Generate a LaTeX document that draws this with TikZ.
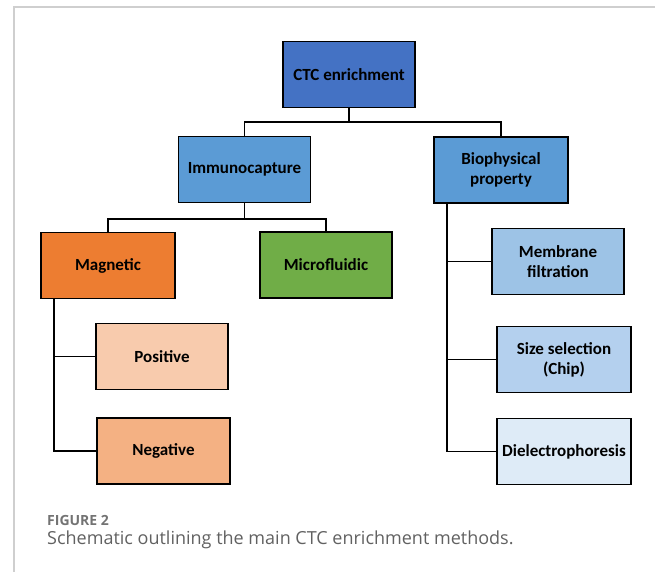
\documentclass[tikz,border=0pt]{standalone}
\usepackage{fontspec}
\setmainfont{Carlito}
\newfontfamily\capfont{Open Sans}
\usepackage{tikz}
\usetikzlibrary{positioning}
\definecolor{ctcblue}{HTML}{4472C4}
\definecolor{midblue}{HTML}{5B9BD5}
\definecolor{lightblue}{HTML}{9DC3E6}
\definecolor{paleblue}{HTML}{B4D0EE}
\definecolor{faintblue}{HTML}{DEEBF7}
\definecolor{magorange}{HTML}{ED7D31}
\definecolor{posorange}{HTML}{F8CBAD}
\definecolor{negorange}{HTML}{F4B183}
\definecolor{microgreen}{HTML}{70AD47}
\definecolor{framegray}{HTML}{CFCFCF}

\begin{document}
\begin{tikzpicture}[x=1pt, y=-1pt, box/.style={draw=black,line width=1.5pt,
	minimum width=132pt,minimum height=66pt,inner sep=0pt,align=center,
	font=\bfseries\fontsize{17}{20}\selectfont}, link/.style={line width=1.8pt}]
\useasboundingbox (0,0) rectangle (655,572);
\draw[framegray, line width=1.2pt] (655,7) -- (14,7) -- (14,572);
\node[box,fill=ctcblue] (0) at (349, 74.5) {CTC enrichment};
\node[box,fill=midblue] (1) at (244.5, 169.5) {Immunocapture};
\node[box,fill=midblue,minimum width=134pt] (2) at (501, 170) {Biophysical\\property};
\node[box,fill=magorange,minimum width=134pt] (3) at (108, 265.5) {Magnetic};
\node[box,fill=microgreen] (4) at (326, 265) {Microfluidic};
\node[box,fill=lightblue] (5) at (558, 261.5) {Membrane\\filtration};
\node[box,fill=posorange] (6) at (162, 356.5) {Positive};
\node[box,fill=negorange,minimum width=133pt] (7) at (163.5, 451) {Negative};
\node[box,fill=paleblue,minimum width=134pt] (8) at (564, 359.5) {Size selection\\(Chip)};
\node[box,fill=faintblue,minimum width=134pt] (9) at (564, 451.5) {Dielectrophoresis};
\coordinate (10) at ([xshift=14pt]3.south west);
\coordinate (11) at ([xshift=14pt]2.south west);
\draw[link] (0.south) -- ++(0,14) -| (1.north);
\draw[link] (0.south) -- ++(0,14) -| (2.north);
\draw[link] (1.south) -- ++(0,16) -| (3.north);
\draw[link] (1.south) -- ++(0,16) -| (4.north);
\draw[link] (10) |- (6.west);
\draw[link] (10) |- (7.west);
\draw[link] (11) |- (5.west);
\draw[link] (11) |- (8.west);
\draw[link] (11) |- (9.west);
\node[anchor=base west,inner sep=0pt,text=black!55,
	font=\capfont\bfseries\fontsize{14}{16}\selectfont] (12) at (47, 525) {FIGURE 2};
\node[anchor=base west,inner sep=0pt,text=black!62,
	font=\capfont\fontsize{18}{21}\selectfont] (13) at (47, 544) {Schematic outlining the main CTC enrichment methods.};
\end{tikzpicture}
\end{document}
